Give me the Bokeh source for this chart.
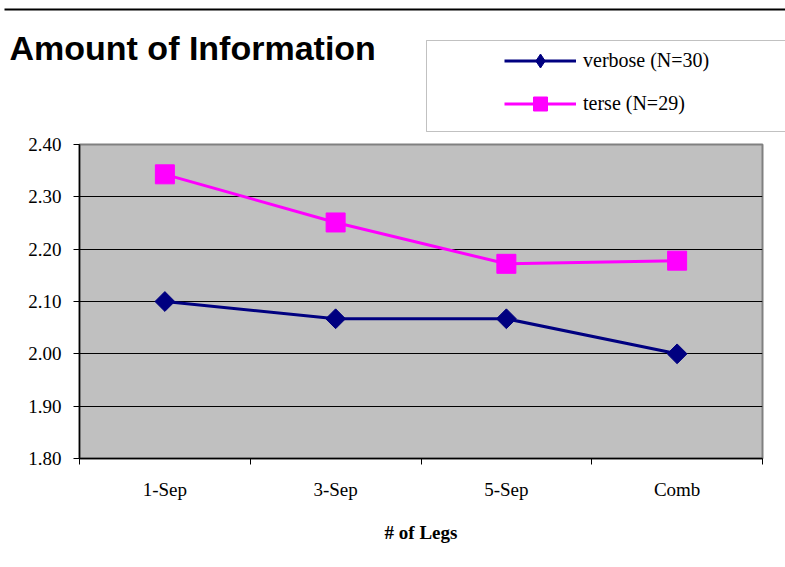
import numpy as np
from bokeh.plotting import figure
from bokeh.layouts import column
from bokeh.models import (Range1d, FixedTicker, NumeralTickFormatter, Legend,
                          LegendItem, Label, BoxAnnotation)
from bokeh.embed import file_html
from bokeh.resources import INLINE

categories = ["1-Sep", "3-Sep", "5-Sep", "Comb"]
verbose = [2.100, 2.067, 2.067, 2.000]
terse = [2.343, 2.251, 2.172, 2.178]
y_ticks = [1.80, 1.90, 2.00, 2.10, 2.20, 2.30, 2.40]
title_text = "Amount of Information"
x_label = "# of Legs"
verbose_label = "verbose (N=30)"
terse_label = "terse (N=29)"

W = 785
HEAD_H = 132
MAIN_H = 435
SERIF = "Liberation Serif"
NAVY = "#000080"
MAGENTA = "#FF00FF"

xs = [i + 0.5 for i in range(len(categories))]

# ---------------- header (title + legend) ----------------
head = figure(width=W, height=HEAD_H, output_backend="svg", toolbar_location=None,
              x_range=Range1d(0, W), y_range=Range1d(HEAD_H, 0),
              min_border=0, min_border_left=0, min_border_right=0,
              min_border_top=0, min_border_bottom=0, frame_align=False)
head.axis.visible = False
head.grid.visible = False
head.outline_line_color = None
head.background_fill_color = "white"

h1 = head.line(xs, verbose, line_color=NAVY, line_width=3, visible=False)
hm1 = head.scatter(xs, verbose, marker="diamond", size=16,
                   fill_color=NAVY, line_color=NAVY, visible=False)
h2 = head.line(xs, terse, line_color=MAGENTA, line_width=3, visible=False)
hm2 = head.scatter(xs, terse, marker="square", size=19,
                   fill_color=MAGENTA, line_color=MAGENTA, visible=False)

legend = Legend(items=[LegendItem(label=verbose_label, renderers=[h1, hm1]),
                       LegendItem(label=terse_label, renderers=[h2, hm2])],
                location=(504, 11.5), padding=0, margin=0,
                border_line_color=None, background_fill_alpha=0,
                glyph_width=72, glyph_height=35, label_height=35, spacing=8,
                label_standoff=7, label_text_font=SERIF,
                label_text_font_size="20px", label_text_color="black")
head.add_layout(legend)

head.add_layout(BoxAnnotation(left=426, right=W + 10, top=40, bottom=131,
                              fill_alpha=0, line_color="#333333", line_width=1))
head.add_layout(BoxAnnotation(left=4, right=W + 10, top=8, bottom=10,
                              fill_color="black", fill_alpha=1, line_color=None))
head.add_layout(Label(x=9, y=47, text=title_text,
                      text_font="Liberation Sans", text_font_style="bold",
                      text_font_size="34px", text_color="black",
                      text_baseline="alphabetic"))

# ---------------- main plot ----------------
p = figure(width=W, height=MAIN_H, output_backend="svg", toolbar_location=None,
           x_range=Range1d(0, len(categories)), y_range=Range1d(y_ticks[0], y_ticks[-1]),
           min_border_left=79, min_border_right=23, min_border_top=12,
           min_border_bottom=109, frame_align=False)

p.background_fill_color = "#C0C0C0"
p.border_fill_color = "white"
p.outline_line_color = "#808080"
p.outline_line_width = 2

p.xaxis.ticker = FixedTicker(ticks=xs, minor_ticks=list(range(len(categories) + 1)))
p.xaxis.major_label_overrides = {x: c for x, c in zip(xs, categories)}
p.xaxis.major_tick_line_color = None
p.xaxis.major_tick_out = 0
p.xaxis.major_tick_in = 0
p.xaxis.minor_tick_out = 6
p.xaxis.minor_tick_in = 0
p.xaxis.minor_tick_line_color = "black"
p.xaxis.major_label_standoff = 14
p.xaxis.major_label_text_font = SERIF
p.xaxis.major_label_text_font_size = "19px"
p.xaxis.major_label_text_color = "black"
p.xaxis.axis_label = x_label
p.xaxis.axis_label_text_font = SERIF
p.xaxis.axis_label_text_font_style = "bold"
p.xaxis.axis_label_text_font_size = "19px"
p.xaxis.axis_label_text_color = "black"
p.xaxis.axis_label_standoff = 19
p.xaxis.axis_line_color = "black"
p.xaxis.axis_line_width = 1.5

p.yaxis.ticker = FixedTicker(ticks=y_ticks)
p.yaxis.formatter = NumeralTickFormatter(format="0.00")
p.yaxis.major_tick_out = 6
p.yaxis.major_tick_in = 0
p.yaxis.minor_tick_line_color = None
p.yaxis.major_label_standoff = 12
p.yaxis.major_label_text_font = SERIF
p.yaxis.major_label_text_font_size = "19px"
p.yaxis.major_label_text_color = "black"
p.yaxis.axis_line_color = "black"
p.yaxis.axis_line_width = 1.5
p.yaxis.major_tick_line_color = "black"

p.xgrid.visible = False
p.ygrid.ticker = FixedTicker(ticks=y_ticks[1:-1])
p.ygrid.grid_line_color = "black"
p.ygrid.grid_line_width = 1

p.line(xs, verbose, line_color=NAVY, line_width=3)
p.scatter(xs, verbose, marker="square", angle=np.pi / 4, size=14,
          fill_color=NAVY, line_color=NAVY)
p.line(xs, terse, line_color=MAGENTA, line_width=3)
p.scatter(xs, terse, marker="square", size=19,
          fill_color=MAGENTA, line_color=MAGENTA)

layout = column(head, p, spacing=0)
open("out.html", "w").write(file_html(layout, INLINE))
